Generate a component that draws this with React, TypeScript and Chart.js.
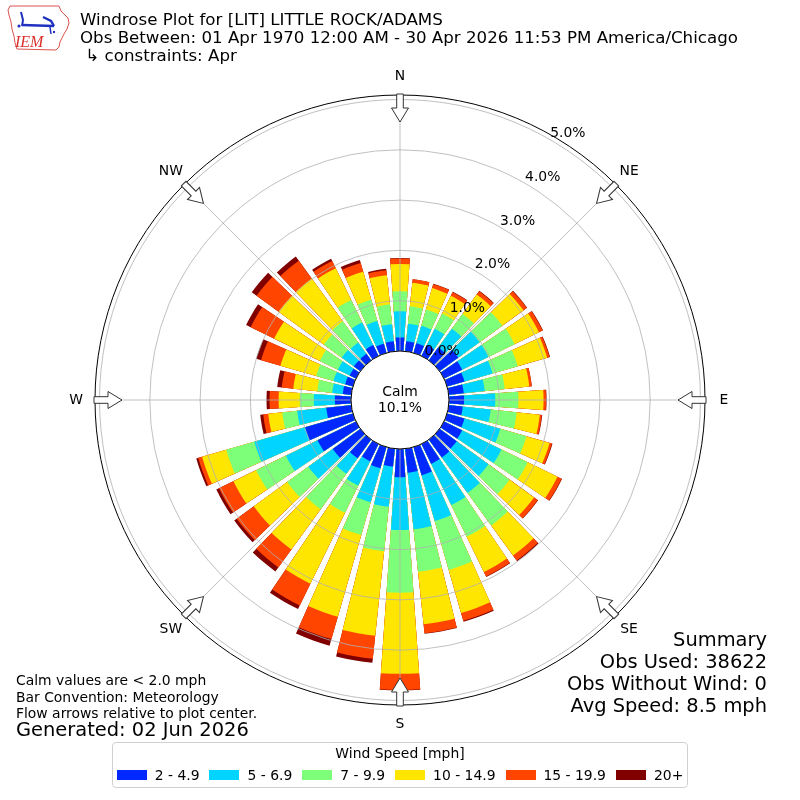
import React, { useEffect, useRef } from 'react';
import { Chart, registerables } from 'chart.js';

Chart.register(...registerables);

// ---------------- data ----------------
const DIRECTIONS = [0, 10, 20, 30, 40, 50, 60, 70, 80, 90, 100, 110, 120, 130, 140, 150, 160, 170,
  180, 190, 200, 210, 220, 230, 240, 250, 260, 270, 280, 290, 300, 310, 320, 330, 340, 350];

const SPEED_LABELS = ['2 - 4.9', '5 - 6.9', '7 - 9.9', '10 - 14.9', '15 - 19.9', '20+'];
const SPEED_COLORS = ['#0028ff', '#00d4ff', '#7dff7a', '#ffe600', '#ff4500', '#800000'];

// percent frequency per direction for each speed bin
const SPEED_2_5 = [0.27, 0.20, 0.20, 0.24, 0.32, 0.46, 0.40, 0.36, 0.30, 0.30, 0.28, 0.36, 0.40, 0.42, 0.44, 0.44, 0.58, 0.48,
  0.56, 0.36, 0.44, 0.38, 0.46, 0.68, 0.85, 0.99, 0.50, 0.32, 0.17, 0.16, 0.14, 0.16, 0.16, 0.24, 0.19, 0.20];
const SPEED_5_7 = [0.52, 0.35, 0.36, 0.36, 0.46, 0.52, 0.58, 0.58, 0.42, 0.62, 0.56, 0.74, 0.87, 0.78, 0.87, 0.91, 0.95, 1.13,
  1.05, 0.80, 0.70, 0.54, 0.38, 0.60, 0.70, 1.05, 0.58, 0.42, 0.21, 0.24, 0.26, 0.30, 0.28, 0.50, 0.47, 0.34];
const SPEED_7_10 = [0.40, 0.35, 0.34, 0.34, 0.36, 0.56, 0.58, 0.52, 0.40, 0.46, 0.52, 0.54, 0.58, 0.52, 0.80, 0.70, 1.01, 0.85,
  1.25, 0.89, 0.68, 0.60, 0.87, 0.52, 0.66, 0.58, 0.30, 0.28, 0.30, 0.36, 0.40, 0.44, 0.52, 0.50, 0.44, 0.40];
const SPEED_10_15 = [0.54, 0.47, 0.44, 0.39, 0.48, 0.52, 0.54, 0.61, 0.49, 0.50, 0.46, 0.48, 0.66, 0.60, 0.74, 0.78, 0.89, 1.05,
  1.61, 1.69, 1.69, 1.57, 0.99, 0.82, 0.50, 0.50, 0.28, 0.42, 0.48, 0.74, 1.01, 1.11, 1.05, 0.70, 0.58, 0.58];
const SPEED_15_20 = [0.11, 0.07, 0.08, 0.08, 0.08, 0.08, 0.08, 0.05, 0.05, 0.05, 0.04, 0.05, 0.09, 0.09, 0.12, 0.10, 0.16, 0.18,
  0.32, 0.46, 0.46, 0.48, 0.44, 0.42, 0.32, 0.08, 0.10, 0.18, 0.23, 0.40, 0.52, 0.54, 0.44, 0.16, 0.18, 0.10];
const SPEED_20_UP = [0.01, 0.00, 0.01, 0.01, 0.01, 0.01, 0.01, 0.01, 0.00, 0.01, 0.01, 0.01, 0.01, 0.01, 0.02, 0.01, 0.02, 0.01,
  0.01, 0.08, 0.14, 0.08, 0.10, 0.06, 0.06, 0.04, 0.06, 0.06, 0.09, 0.10, 0.10, 0.12, 0.10, 0.05, 0.06, 0.03];

const RING_TICKS = [0, 1, 2, 3, 4, 5];
const COMPASS_LABELS = ['N', 'NE', 'E', 'SE', 'S', 'SW', 'W', 'NW'];
const CALM_PCT = '10.1%';

const TITLE_LINES = [
  'Windrose Plot for [LIT] LITTLE ROCK/ADAMS',
  'Obs Between: 01 Apr 1970 12:00 AM - 30 Apr 2026 11:53 PM America/Chicago',
  ' \u21b3 constraints: Apr',
];
const SUMMARY_LINES = ['Summary', 'Obs Used: 38622', 'Obs Without Wind: 0', 'Avg Speed: 8.5 mph'];
const NOTE_LINES = ['Calm values are < 2.0 mph', 'Bar Convention: Meteorology', 'Flow arrows relative to plot center.'];
const GENERATED = 'Generated: 02 Jun 2026';
const LEGEND_TITLE = 'Wind Speed [mph]';

// scale settings
const SCALE_MIN = -0.974;
const SCALE_MAX = 5.09;
const BAR_DEG = 8;
const GAP_DEG = 2;

const FONT = '"DejaVu Sans", sans-serif';
const SMALL = 13.9;

const decorPlugin = {
  id: 'windroseDecor',
  afterDatasetsDraw(chart: any) {
    const s = chart.scales.r;
    const ctx = chart.ctx;
    const cx = s.xCenter;
    const cy = s.yCenter;
    const r0 = s.getDistanceFromCenterForValue(0);
    const rMax = s.drawingArea;
    ctx.save();
    ctx.strokeStyle = '#b0b0b0';
    ctx.lineWidth = 0.8;
    COMPASS_LABELS.forEach((_, i) => {
      const a = (i * 45 * Math.PI) / 180;
      ctx.beginPath();
      ctx.moveTo(cx + r0 * Math.sin(a), cy - r0 * Math.cos(a));
      ctx.lineTo(cx + rMax * Math.sin(a), cy - rMax * Math.cos(a));
      ctx.stroke();
    });
    ctx.restore();
  },
  afterDraw(chart: any) {
    const s = chart.scales.r;
    const ctx = chart.ctx;
    const cx = s.xCenter;
    const cy = s.yCenter;
    const r0 = s.getDistanceFromCenterForValue(0);
    const rMax = s.drawingArea;
    ctx.save();
    // calm circle
    ctx.beginPath();
    ctx.arc(cx, cy, r0, 0, Math.PI * 2);
    ctx.fillStyle = '#ffffff';
    ctx.fill();
    ctx.strokeStyle = '#000000';
    ctx.lineWidth = 1;
    ctx.stroke();
    // outer frame
    ctx.beginPath();
    ctx.arc(cx, cy, rMax, 0, Math.PI * 2);
    ctx.stroke();
    // calm text
    ctx.fillStyle = '#000';
    ctx.font = `${SMALL}px ${FONT}`;
    ctx.textAlign = 'center';
    ctx.textBaseline = 'middle';
    ctx.fillText('Calm', cx, cy - 8);
    ctx.fillText(CALM_PCT, cx, cy + 8);
    // ring labels
    ctx.textAlign = 'left';
    ctx.textBaseline = 'bottom';
    const la = (30 * Math.PI) / 180;
    RING_TICKS.forEach((v) => {
      const r = s.getDistanceFromCenterForValue(v);
      ctx.fillText(`${v.toFixed(1)}%`, cx + r * Math.sin(la), cy - r * Math.cos(la) + 1);
    });
    // compass labels and arrows
    ctx.textAlign = 'center';
    ctx.textBaseline = 'middle';
    COMPASS_LABELS.forEach((lab, i) => {
      const a = (i * 45 * Math.PI) / 180;
      const rl = rMax + 19;
      ctx.fillStyle = '#000';
      ctx.fillText(lab, cx + rl * Math.sin(a), cy - rl * Math.cos(a));
      ctx.save();
      ctx.translate(cx, cy);
      ctx.rotate(a);
      const t = rMax + 1;
      ctx.beginPath();
      ctx.moveTo(-3.3, -t);
      ctx.lineTo(3.3, -t);
      ctx.lineTo(3.3, -t + 14);
      ctx.lineTo(8.5, -t + 14);
      ctx.lineTo(0, -t + 28);
      ctx.lineTo(-8.5, -t + 14);
      ctx.lineTo(-3.3, -t + 14);
      ctx.closePath();
      ctx.fillStyle = '#ffffff';
      ctx.fill();
      ctx.strokeStyle = '#333333';
      ctx.lineWidth = 1;
      ctx.stroke();
      ctx.restore();
    });
    ctx.restore();
  },
};

function Logo() {
  return (
    <svg width="68" height="50" viewBox="0 0 68 50" style={{ position: 'absolute', left: 2, top: 2 }}>
      <path
        d="M8 4 L57 4 L59 9 L62 12 L66 16 L67 21 L65 27 L62 32 L60 36 L58 40 L57 45 L54 48 L15 47 L13 41 L12 34 L10 27 L9 20 L7 13 L6 8 Z"
        fill="none"
        stroke="#d9534f"
        strokeWidth="1"
      />
      <path d="M19 10 L21 18 L20 24" fill="none" stroke="#2030c0" strokeWidth="2" />
      <path d="M20 23 L52 24" fill="none" stroke="#2030c0" strokeWidth="2.4" />
      <path d="M41 15 L49 19 L52 24" fill="none" stroke="#2030c0" strokeWidth="2.4" />
      <path d="M48 25 L49 32" fill="none" stroke="#2030c0" strokeWidth="1.5" />
      <circle cx="17" cy="24" r="1.6" fill="#2030c0" />
      <circle cx="52" cy="30" r="1.2" fill="#2030c0" />
      <text x="13" y="45" fontFamily="Liberation Serif, serif" fontStyle="italic" fontSize="16" fill="#d9302a">
        IEM
      </text>
    </svg>
  );
}

export default function App() {
  const canvasRef = useRef<HTMLCanvasElement>(null);

  useEffect(() => {
    if (!canvasRef.current) return;
    const bins = [SPEED_2_5, SPEED_5_7, SPEED_7_10, SPEED_10_15, SPEED_15_20, SPEED_20_UP];
    const labels: string[] = [];
    DIRECTIONS.forEach((d) => {
      labels.push(String(d));
      labels.push('');
    });
    const datasets = SPEED_LABELS.map((lab, k) => {
      const data: number[] = [];
      DIRECTIONS.forEach((_, i) => {
        let cum = 0;
        for (let j = 0; j <= k; j++) cum += bins[j][i];
        data.push(cum);
        data.push(0);
      });
      return {
        label: lab,
        data,
        backgroundColor: (c: any) => (c.dataIndex % 2 === 0 ? SPEED_COLORS[k] : 'rgba(0,0,0,0)'),
        borderWidth: 0,
        angle: (c: any) => (c.dataIndex % 2 === 0 ? BAR_DEG : GAP_DEG),
      };
    });

    const chart = new Chart(canvasRef.current, {
      type: 'polarArea',
      data: { labels, datasets: datasets as any },
      options: {
        animation: false,
        responsive: true,
        maintainAspectRatio: false,
        events: [],
        layout: { padding: 95 },
        plugins: {
          legend: { display: false },
          tooltip: { enabled: false },
          title: { display: false },
        },
        scales: {
          r: {
            type: 'radialLinear',
            min: SCALE_MIN,
            max: SCALE_MAX,
            bounds: 'data',
            beginAtZero: false,
            startAngle: -BAR_DEG / 2,
            ticks: { display: false },
            afterBuildTicks: (scale: any) => {
              scale.ticks = RING_TICKS.map((v) => ({ value: v }));
            },
            grid: { circular: true, color: '#b0b0b0', lineWidth: 0.8, z: 1 },
            angleLines: { display: false },
            pointLabels: { display: false },
          } as any,
        },
      } as any,
      plugins: [decorPlugin],
    });
    return () => chart.destroy();
  }, []);

  return (
    <div style={{ position: 'fixed', left: 0, top: 0, width: 800, height: 800, background: '#fff', fontFamily: FONT, color: '#000' }}>
      <canvas ref={canvasRef} style={{ position: 'absolute', left: 0, top: 0, width: 800, height: 800 }} />
      <Logo />
      <div style={{ position: 'absolute', left: 80, top: 11, fontSize: 16.67, lineHeight: '18px', whiteSpace: 'pre' }}>
        {TITLE_LINES.map((t, i) => (
          <div key={i}>{t}</div>
        ))}
      </div>
      <div style={{ position: 'absolute', right: 33, top: 629, fontSize: 19.44, lineHeight: '22px', textAlign: 'right', whiteSpace: 'pre' }}>
        {SUMMARY_LINES.map((t, i) => (
          <div key={i}>{t}</div>
        ))}
      </div>
      <div style={{ position: 'absolute', left: 16, top: 672, fontSize: SMALL, lineHeight: '16.5px', whiteSpace: 'pre' }}>
        {NOTE_LINES.map((t, i) => (
          <div key={i}>{t}</div>
        ))}
      </div>
      <div style={{ position: 'absolute', left: 16, top: 719, fontSize: 19.44, lineHeight: '22px', whiteSpace: 'pre' }}>{GENERATED}</div>
      <div
        style={{
          position: 'absolute',
          left: 112,
          top: 742,
          width: 576,
          height: 46,
          boxSizing: 'border-box',
          border: '1px solid #d0d0d0',
          borderRadius: 4,
          background: 'rgba(255,255,255,0.9)',
        }}
      >
        <div style={{ textAlign: 'center', fontSize: SMALL, lineHeight: '16px', marginTop: 2 }}>{LEGEND_TITLE}</div>
        <div style={{ display: 'flex', justifyContent: 'center', alignItems: 'center', marginTop: 7, fontSize: SMALL, lineHeight: '14px' }}>
          {SPEED_LABELS.map((lab, i) => (
            <div key={i} style={{ display: 'flex', alignItems: 'center', marginRight: i < SPEED_LABELS.length - 1 ? 10 : 0 }}>
              <div style={{ width: 30, height: 10, background: SPEED_COLORS[i], marginRight: 8 }} />
              <span>{lab}</span>
            </div>
          ))}
        </div>
      </div>
    </div>
  );
}
